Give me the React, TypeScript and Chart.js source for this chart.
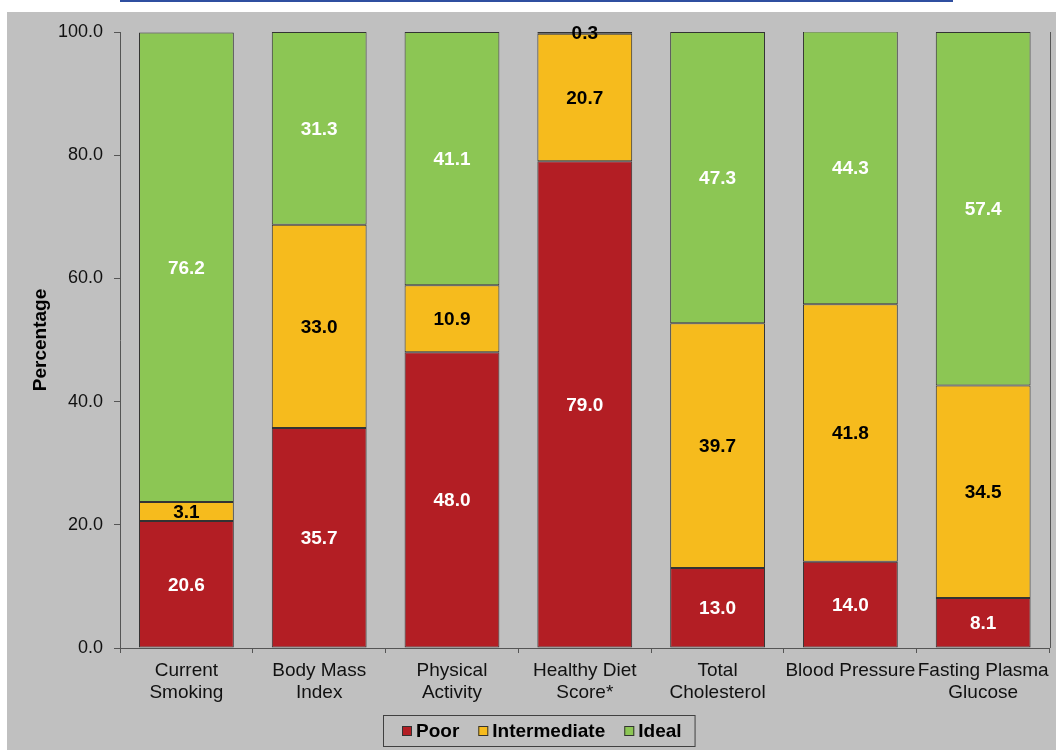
import React, { useEffect, useRef } from "react";
import { Chart, registerables } from "chart.js";

Chart.register(...registerables);

const categories: (string | string[])[] = [
  ["Current", "Smoking"],
  ["Body Mass", "Index"],
  ["Physical", "Activity"],
  ["Healthy Diet", "Score*"],
  ["Total", "Cholesterol"],
  ["Blood Pressure"],
  ["Fasting Plasma", "Glucose"],
];
const poor = [20.6, 35.7, 48.0, 79.0, 13.0, 14.0, 8.1];
const intermediate = [3.1, 33.0, 10.9, 20.7, 39.7, 41.8, 34.5];
const ideal = [76.2, 31.3, 41.1, 0.3, 47.3, 44.3, 57.4];
const seriesNames = ["Poor", "Intermediate", "Ideal"];
const seriesColors = ["#B31E24", "#F6BB1D", "#8CC654"];
const labelColors = ["#FFFFFF", "#000000", "#FFFFFF"];
const yTicks = [0, 20, 40, 60, 80, 100];

const FONT = "'Liberation Sans', Arial, sans-serif";
const BG = "#C0C0C0";
const EDGE = "#333333";

const backgroundPlugin = {
  id: "bgPlugin",
  beforeDraw(chart: any) {
    const { ctx, width, height } = chart;
    ctx.save();
    ctx.fillStyle = "#FFFFFF";
    ctx.fillRect(0, 0, width, height);
    ctx.fillStyle = BG;
    ctx.fillRect(7, 12, width - 7, height - 12);
    ctx.fillStyle = "#2F4FA0";
    ctx.fillRect(120, 0, 833, 2);
    ctx.restore();
  },
  afterDraw(chart: any) {
    const { ctx, chartArea } = chart;
    ctx.save();
    ctx.strokeStyle = "#555555";
    ctx.lineWidth = 1;
    ctx.beginPath();
    ctx.moveTo(Math.round(chartArea.right) + 0.5, chartArea.top);
    ctx.lineTo(Math.round(chartArea.right) + 0.5, chartArea.bottom);
    ctx.stroke();
    ctx.restore();
  },
};

const valueLabelPlugin = {
  id: "valueLabels",
  afterDatasetsDraw(chart: any) {
    const { ctx } = chart;
    ctx.save();
    ctx.font = `bold 19px ${FONT}`;
    ctx.textAlign = "center";
    ctx.textBaseline = "middle";
    chart.data.datasets.forEach((ds: any, di: number) => {
      const meta = chart.getDatasetMeta(di);
      meta.data.forEach((bar: any, i: number) => {
        const { x, y, base } = bar.getProps(["x", "y", "base"], true);
        const tall = Math.abs(base - y) > 14;
        ctx.fillStyle = tall ? labelColors[di] : "#000000";
        ctx.fillText(Number(ds.data[i]).toFixed(1), x, (y + base) / 2 + 1);
      });
    });
    ctx.restore();
  },
};

const legendPlugin = {
  id: "boxLegend",
  afterDraw(chart: any) {
    const { ctx } = chart;
    const left = 383;
    const top = 715;
    const h = 31;
    ctx.save();
    ctx.font = `bold 19px ${FONT}`;
    const padL = 19;
    const padR = 13;
    const box = 10;
    const gap = 4;
    const itemGap = 19;
    let w = padL + padR;
    const widths = seriesNames.map((n) => ctx.measureText(n).width);
    widths.forEach((tw, i) => {
      w += box + gap + tw + (i < widths.length - 1 ? itemGap : 0);
    });
    ctx.fillStyle = BG;
    ctx.fillRect(left, top, w, h);
    ctx.strokeStyle = "#404040";
    ctx.lineWidth = 1;
    ctx.strokeRect(left + 0.5, top + 0.5, w, h);
    let x = left + padL;
    const cy = top + h / 2;
    ctx.textBaseline = "middle";
    ctx.textAlign = "left";
    seriesNames.forEach((n, i) => {
      ctx.fillStyle = seriesColors[i];
      ctx.fillRect(x, Math.round(cy - box / 2), box, box);
      ctx.strokeStyle = EDGE;
      ctx.strokeRect(x + 0.5, Math.round(cy - box / 2) + 0.5, box - 1, box - 1);
      ctx.fillStyle = "#000000";
      ctx.fillText(n, x + box + gap, cy + 1);
      x += box + gap + widths[i] + itemGap;
    });
    ctx.restore();
  },
};

export default function App() {
  const ref = useRef<HTMLCanvasElement>(null);
  useEffect(() => {
    if (!ref.current) return;
    const seriesData = [poor, intermediate, ideal];
    const chart = new Chart(ref.current, {
      type: "bar",
      data: {
        labels: categories,
        datasets: seriesNames.map((name, i) => ({
          label: name,
          data: seriesData[i],
          backgroundColor: seriesColors[i],
          borderColor: EDGE,
          borderWidth: 1,
          borderSkipped: false,
          categoryPercentage: 1,
          barPercentage: 0.714,
        })),
      },
      options: {
        animation: false,
        responsive: false,
        events: [],
        layout: { padding: { top: 32, left: 7, right: 5, bottom: 35 } },
        plugins: {
          legend: { display: false },
          tooltip: { enabled: false },
          title: { display: false },
        },
        scales: {
          x: {
            stacked: true,
            grid: {
              display: true,
              drawOnChartArea: false,
              drawTicks: true,
              tickLength: 5,
              color: "#555555",
              offset: true,
            },
            border: { display: true, color: "#555555", width: 1 },
            ticks: {
              color: "#111111",
              font: { family: FONT, size: 19, lineHeight: 1.15 },
              padding: 7,
              maxRotation: 0,
              minRotation: 0,
              autoSkip: false,
            },
            afterFit(scale: any) {
              scale.height = 67;
            },
          },
          y: {
            stacked: true,
            min: 0,
            max: 100,
            afterBuildTicks(scale: any) {
              scale.ticks = yTicks.map((v) => ({ value: v }));
            },
            grid: {
              display: true,
              drawOnChartArea: false,
              drawTicks: true,
              tickLength: 6,
              color: "#555555",
            },
            border: { display: true, color: "#555555", width: 1 },
            ticks: {
              color: "#111111",
              font: { family: FONT, size: 18 },
              padding: 11,
              callback: (v: any) => Number(v).toFixed(1),
            },
            title: {
              display: true,
              text: "Percentage",
              color: "#000000",
              font: { family: FONT, size: 19, weight: "bold" },
              padding: { top: 22, bottom: 0 },
            },
            afterFit(scale: any) {
              scale.width = 113;
            },
          },
        },
      },
      plugins: [backgroundPlugin, valueLabelPlugin, legendPlugin],
    });
    return () => chart.destroy();
  }, []);
  return (
    <div style={{ position: "absolute", left: 0, top: 0, width: 1056, height: 750 }}>
      <canvas ref={ref} width={1056} height={750} style={{ display: "block" }} />
    </div>
  );
}
